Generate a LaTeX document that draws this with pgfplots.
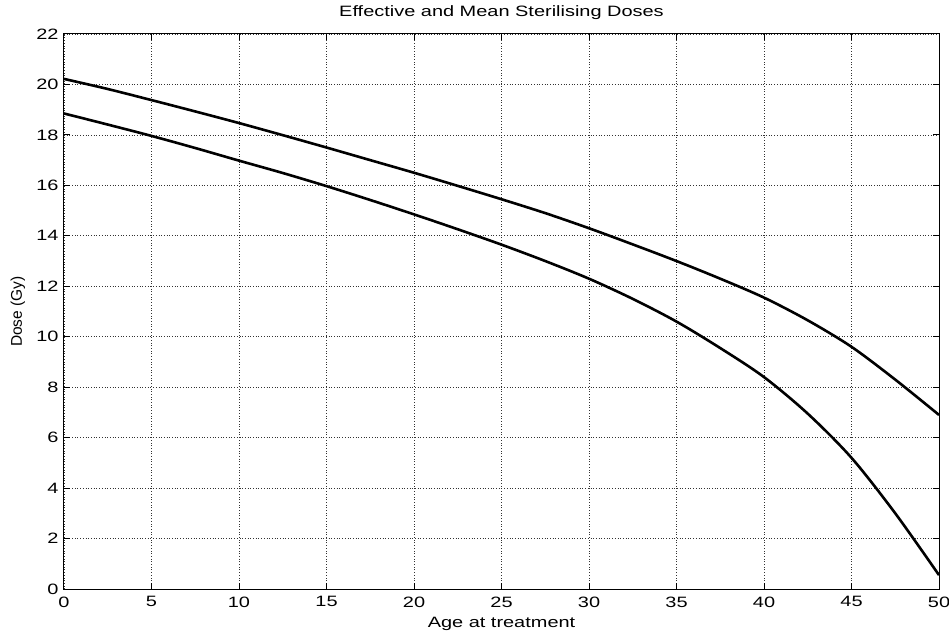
\documentclass[border=0pt]{standalone}
\usepackage{fontspec}
\setmainfont[FakeStretch=1.33]{Liberation Sans}
\newfontfamily\plainfont{Liberation Sans}
\usepackage{pgfplots}
\pgfplotsset{compat=1.18}

\begin{document}
\begin{tikzpicture}
\begin{axis}[name=ax,
  scale only axis, width=875pt, height=555pt,
  xmin=0, xmax=50, ymin=0, ymax=22,
  xtick={0,5,...,50}, ytick={0,2,...,22},
  tick align=inside, tick pos=both, major tick length=6pt,
  grid=major, major grid style={black!80, line width=0.7pt, dotted},
  axis line style={black, line width=1pt},
  every tick/.style={black, line width=1pt},
  /pgf/number format/assume math mode=true,
  ticklabel style={font=\fontsize{15}{18}\selectfont},
  xticklabel style={yshift=-4pt},
  yticklabel style={xshift=-2pt},
  title={Effective and Mean Sterilising Doses},
  title style={font=\fontsize{15}{18}\selectfont, at={(axis description cs:0.5,1.0216)}, anchor=base},
  xlabel={Age at treatment},
  ylabel={Dose (Gy)},
  xlabel style={font=\fontsize{15}{18}\selectfont, at={(axis description cs:0.5,-0.0685)}, anchor=base},
  ylabel style={font=\plainfont\fontsize{15.5}{18}\selectfont, at={(axis description cs:-0.0526,0.5)}, anchor=center},
]
\addplot[black, line width=2.6pt, smooth] coordinates {
 (0,20.22) (2.5,19.82) (5,19.38) (7.5,18.93) (10,18.47) (12.5,17.99)
 (15,17.5) (17.5,17.0) (20,16.5) (22.5,15.98) (25,15.45) (27.5,14.9)
 (30,14.3) (32.5,13.66) (35,13.0) (37.5,12.3) (40,11.55) (42.5,10.65)
 (45,9.6) (47.5,8.3) (50,6.9)};
\addplot[black, line width=2.6pt, smooth] coordinates {
 (0,18.85) (2.5,18.41) (5,17.96) (7.5,17.48) (10,16.98) (12.5,16.49)
 (15,15.97) (17.5,15.42) (20,14.85) (22.5,14.26) (25,13.65) (27.5,13.0)
 (30,12.3) (32.5,11.5) (35,10.6) (37.5,9.55) (40,8.4) (42.5,6.95)
 (45,5.2) (47.5,3.0) (50,0.55)};
\end{axis}
\pgfresetboundingbox
\path ([xshift=-64pt,yshift=-43pt]ax.south west) rectangle ([xshift=10pt,yshift=34pt]ax.north east);
\end{tikzpicture}
\end{document}
